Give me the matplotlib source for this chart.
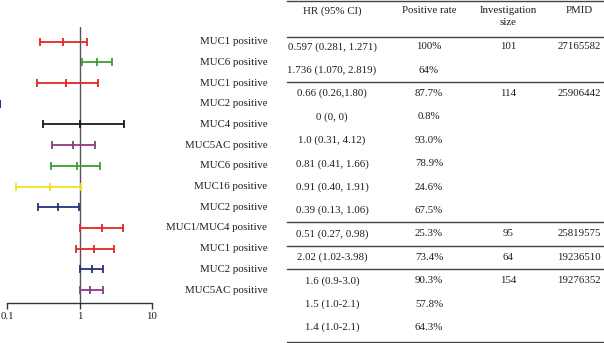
import numpy as np
import matplotlib
matplotlib.use("Agg")
import matplotlib.pyplot as plt
from matplotlib.lines import Line2D
from matplotlib.transforms import blended_transform_factory

plt.rcParams['font.family'] = ['Liberation Serif', 'DejaVu Serif']

# forest plot rows (top to bottom)
markers = ["MUC1 positive", "MUC6 positive", "MUC1 positive", "MUC2 positive",
           "MUC4 positive", "MUC5AC positive", "MUC6 positive", "MUC16 positive",
           "MUC2 positive", "MUC1/MUC4 positive", "MUC1 positive", "MUC2 positive",
           "MUC5AC positive"]
hr = [0.597, 1.736, 0.66, 0, 1.0, 0.81, 0.91, 0.39, 0.51, 2.02, 1.6, 1.5, 1.4]
ci_low = [0.281, 1.070, 0.26, 0, 0.31, 0.41, 0.40, 0.13, 0.27, 1.02, 0.9, 1.0, 1.0]
ci_high = [1.271, 2.819, 1.80, 0, 4.12, 1.66, 1.91, 1.06, 0.98, 3.98, 3.0, 2.1, 2.1]
row_colors = ["#e42525", "#3c9d32", "#e42525", "#26307e", "#1a1a1a", "#8c3a85",
              "#3c9d32", "#f2e11e", "#26307e", "#e42525", "#e42525", "#26307e", "#8c3a85"]

# table columns
headers = ["HR (95% CI)", "Positive rate", "Investigation\nsize", "PMID"]
hr_text = ["0.597 (0.281, 1.271)", "1.736 (1.070, 2.819)", "0.66 (0.26,1.80)", "0 (0, 0)",
           "1.0 (0.31, 4.12)", "0.81 (0.41, 1.66)", "0.91 (0.40, 1.91)", "0.39 (0.13, 1.06)",
           "0.51 (0.27, 0.98)", "2.02 (1.02-3.98)", "1.6 (0.9-3.0)", "1.5 (1.0-2.1)",
           "1.4 (1.0-2.1)"]
pos_rate = ["100%", "64%", "87.7%", "0.8%", "93.0%", "78.9%", "24.6%", "67.5%",
            "25.3%", "73.4%", "90.3%", "57.8%", "64.3%"]
inv_size = ["101", "", "114", "", "", "", "", "", "95", "64", "154", "", ""]
pmid = ["27165582", "", "25906442", "", "", "", "", "", "25819575", "19236510",
        "19276352", "", ""]
group_starts = [2, 8, 9, 10]

W, H = 604, 343
FS = 7.8
TXT = '#1c1c1c'


def fx(px):
    return px / W


def fy(py):
    return 1 - py / H


fig = plt.figure(figsize=(W / 100, H / 100), dpi=100)

# ---- forest plot ----
ax_top, ax_bot, ax_right = 27.3, 303.3, 151.7
ax = fig.add_axes([0, fy(ax_bot), fx(ax_right), (ax_bot - ax_top) / H])
ax.set_xscale('log')
xlo = 10 ** (-1 - 7.3 / 72.2)
ax.set_xlim(xlo, 10)
row_px0, row_step = 41.7, 20.7
ax.set_ylim((ax_bot - row_px0) / row_step, (ax_top - row_px0) / row_step)

ax.axvline(1, color='#555555', lw=1.0, zorder=1)

for i in range(len(markers)):
    x = max(hr[i], xlo)
    lo = max(ci_low[i], xlo)
    hi = max(ci_high[i], xlo)
    cont = ax.errorbar([x], [i], xerr=[[x - lo], [hi - x]], fmt='|', color=row_colors[i],
                       ms=6, mew=1.3, elinewidth=1.3, capsize=3, capthick=1.3, zorder=3)
    for art in cont.get_children():
        art.set_clip_on(False)

lab_tr = blended_transform_factory(fig.transFigure, ax.transData)
for i, name in enumerate(markers):
    ax.text(fx(267.3), i, name, transform=lab_tr, ha='right', va='center',
            fontsize=FS, color=TXT, clip_on=False)

for side in ['top', 'right', 'left']:
    ax.spines[side].set_visible(False)
ax.spines['bottom'].set_bounds(0.1, 10)
ax.spines['bottom'].set_color('#333333')
ax.spines['bottom'].set_linewidth(1.0)
ax.set_xticks([0.1, 1, 10])
ax.set_xticklabels(["0.1", "1", "10"])
ax.xaxis.set_minor_locator(matplotlib.ticker.NullLocator())
ax.tick_params(axis='x', direction='out', length=4.5, width=1.0, color='#333333',
               labelsize=FS, pad=1.5, labelcolor=TXT)
ax.set_yticks([])
ax.patch.set_alpha(0)

# ---- table ----
col_x = [332, 429, 508, 579]
for cx, head in zip(col_x, headers):
    fig.text(fx(cx), fy(6), head, ha='center', va='top', fontsize=FS, color=TXT,
             linespacing=1.45)

tab_px0, tab_step = 46.7, 23.4
for i in range(len(hr_text)):
    y = fy(tab_px0 + tab_step * i)
    for cx, col in zip(col_x, [hr_text, pos_rate, inv_size, pmid]):
        if col[i]:
            fig.text(fx(cx), y, col[i], ha='center', va='center', fontsize=FS, color=TXT)

rule_y = [0.6, 37] + [tab_px0 + tab_step * g - 11.7 for g in group_starts] + [341.7]
for ry in rule_y:
    fig.add_artist(Line2D([fx(287), 1], [fy(ry), fy(ry)], color='#444444', lw=1.0))

fig.savefig("out.png", dpi=100)
